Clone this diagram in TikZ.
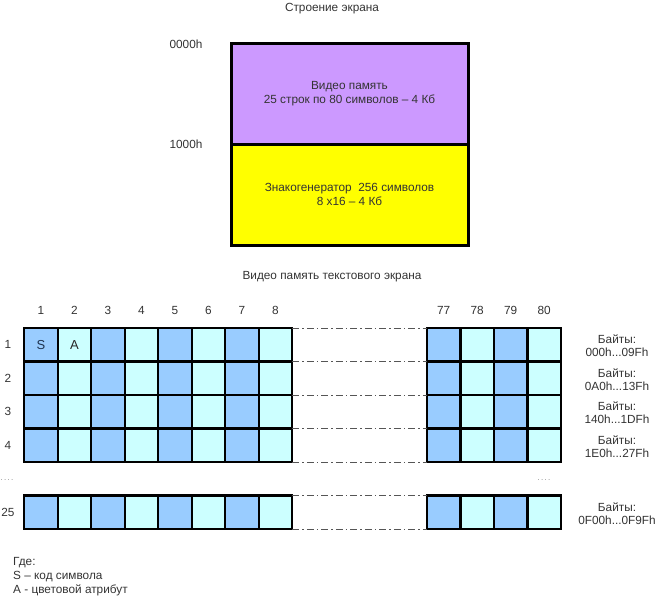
\documentclass[tikz,border=0pt]{standalone}
\usepackage{fontspec}
\setmainfont{Liberation Sans}
\usepackage{tikz}
\usetikzlibrary{positioning}
\definecolor{txt}{HTML}{333333}
\definecolor{lila}{HTML}{CC99FF}
\definecolor{yel}{HTML}{FFFF00}
\definecolor{cellA}{HTML}{99CCFF}
\definecolor{cellB}{HTML}{CCFFFF}
\definecolor{dashc}{HTML}{555555}
\definecolor{symc}{HTML}{1F3350}
\newcommand\bdots{...}
\tikzset{
  lab/.style={text=txt, font=\fontsize{11.8}{13}\selectfont, inner sep=0pt, align=center},
  memblk/.style={draw=black, line width=3pt, minimum width=237pt, minimum height=101pt,
    align=center, text=txt, font=\fontsize{11.8}{14}\selectfont},
  cell/.style={draw=black, line width=2.2pt, minimum size=33.5pt, inner sep=0pt, outer sep=0pt,
    text=symc, font=\fontsize{13}{14}\selectfont},
  cellodd/.style={cell, fill=cellA},
  celleven/.style={cell, fill=cellB},
  gap/.style={draw=dashc, line width=0.7pt, dash pattern=on 7pt off 3pt on 1.5pt off 3pt},
  dots/.style={text=txt!60, font=\fontsize{8}{8}\selectfont, inner sep=0pt},
}

\begin{document}
\begin{tikzpicture}[x=1pt,y=-1pt]
  \useasboundingbox (0,0) rectangle (656,600);

  % memory map
  \node[lab] (title) at (332,9) {Строение экрана};
  \node[memblk, fill=lila] (vmem) at (349.5,93.5) {Видео память\\25 строк по 80 символов – 4 Кб};
  \node[memblk, fill=yel] (zgen) at (349.5,194.5) {Знакогенератор\ \ 256 символов\\8 х16 – 4 Кб};
  \node[lab] (a0) at (186,44) {0000h};
  \node[lab] (a1) at (186,144) {1000h};

  % text screen
  \node[lab] (title2) at (332,277) {Видео память текстового экрана};

  \foreach \c in {1,...,8}
    \node[lab] (col-\c) at ({41+33.5*(\c-1)},310) {\c};
  \foreach \c in {77,...,80}
    \node[lab] (col-\c) at ({443.7+33.5*(\c-77)},310) {\c};

  \foreach \r/\y/\bytes in {1/344.75/000h\bdots09Fh, 2/378.25/0A0h\bdots13Fh, 3/411.75/140h\bdots1DFh,
      4/445.25/1E0h\bdots27Fh, 25/512.25/0F00h\bdots0F9Fh} {
    \node[lab] (row-\r) at (8,\y) {\r};
    \foreach \c in {1,2,3,4,5,6,7,8,77,78,79,80} {
      \ifodd\c \def\sty{cellodd}\else \def\sty{celleven}\fi
      \node[\sty] (c-\r-\c) at (col-\c |- row-\r) {};
    }
    \node[lab] (b-\r) at (617,\y+1) {Байты:\\\bytes};
    \draw[gap] (c-\r-8.north east) -- (c-\r-77.north west);
  }
  \draw[gap] (c-4-8.south east) -- (c-4-77.south west);
  \draw[gap] (c-25-8.south east) -- (c-25-77.south west);

  \node[cell, draw=none, fill=none] (sym) at (c-1-1) {S};
  \node[cell, draw=none, fill=none, text=black!85] (attr) at (c-1-2) {A};

  \node[dots] (skipl) at (7,480) {.\,.\,.\,.};
  \node[dots] (skipr) at (544,480) {.\,.\,.\,.};

  % legend
  \node[lab, align=left, anchor=north west, font=\fontsize{11.8}{14}\selectfont] (legend) at (13,557)
    {Где:\\S – код символа\\A - цветовой атрибут};
\end{tikzpicture}
\end{document}
